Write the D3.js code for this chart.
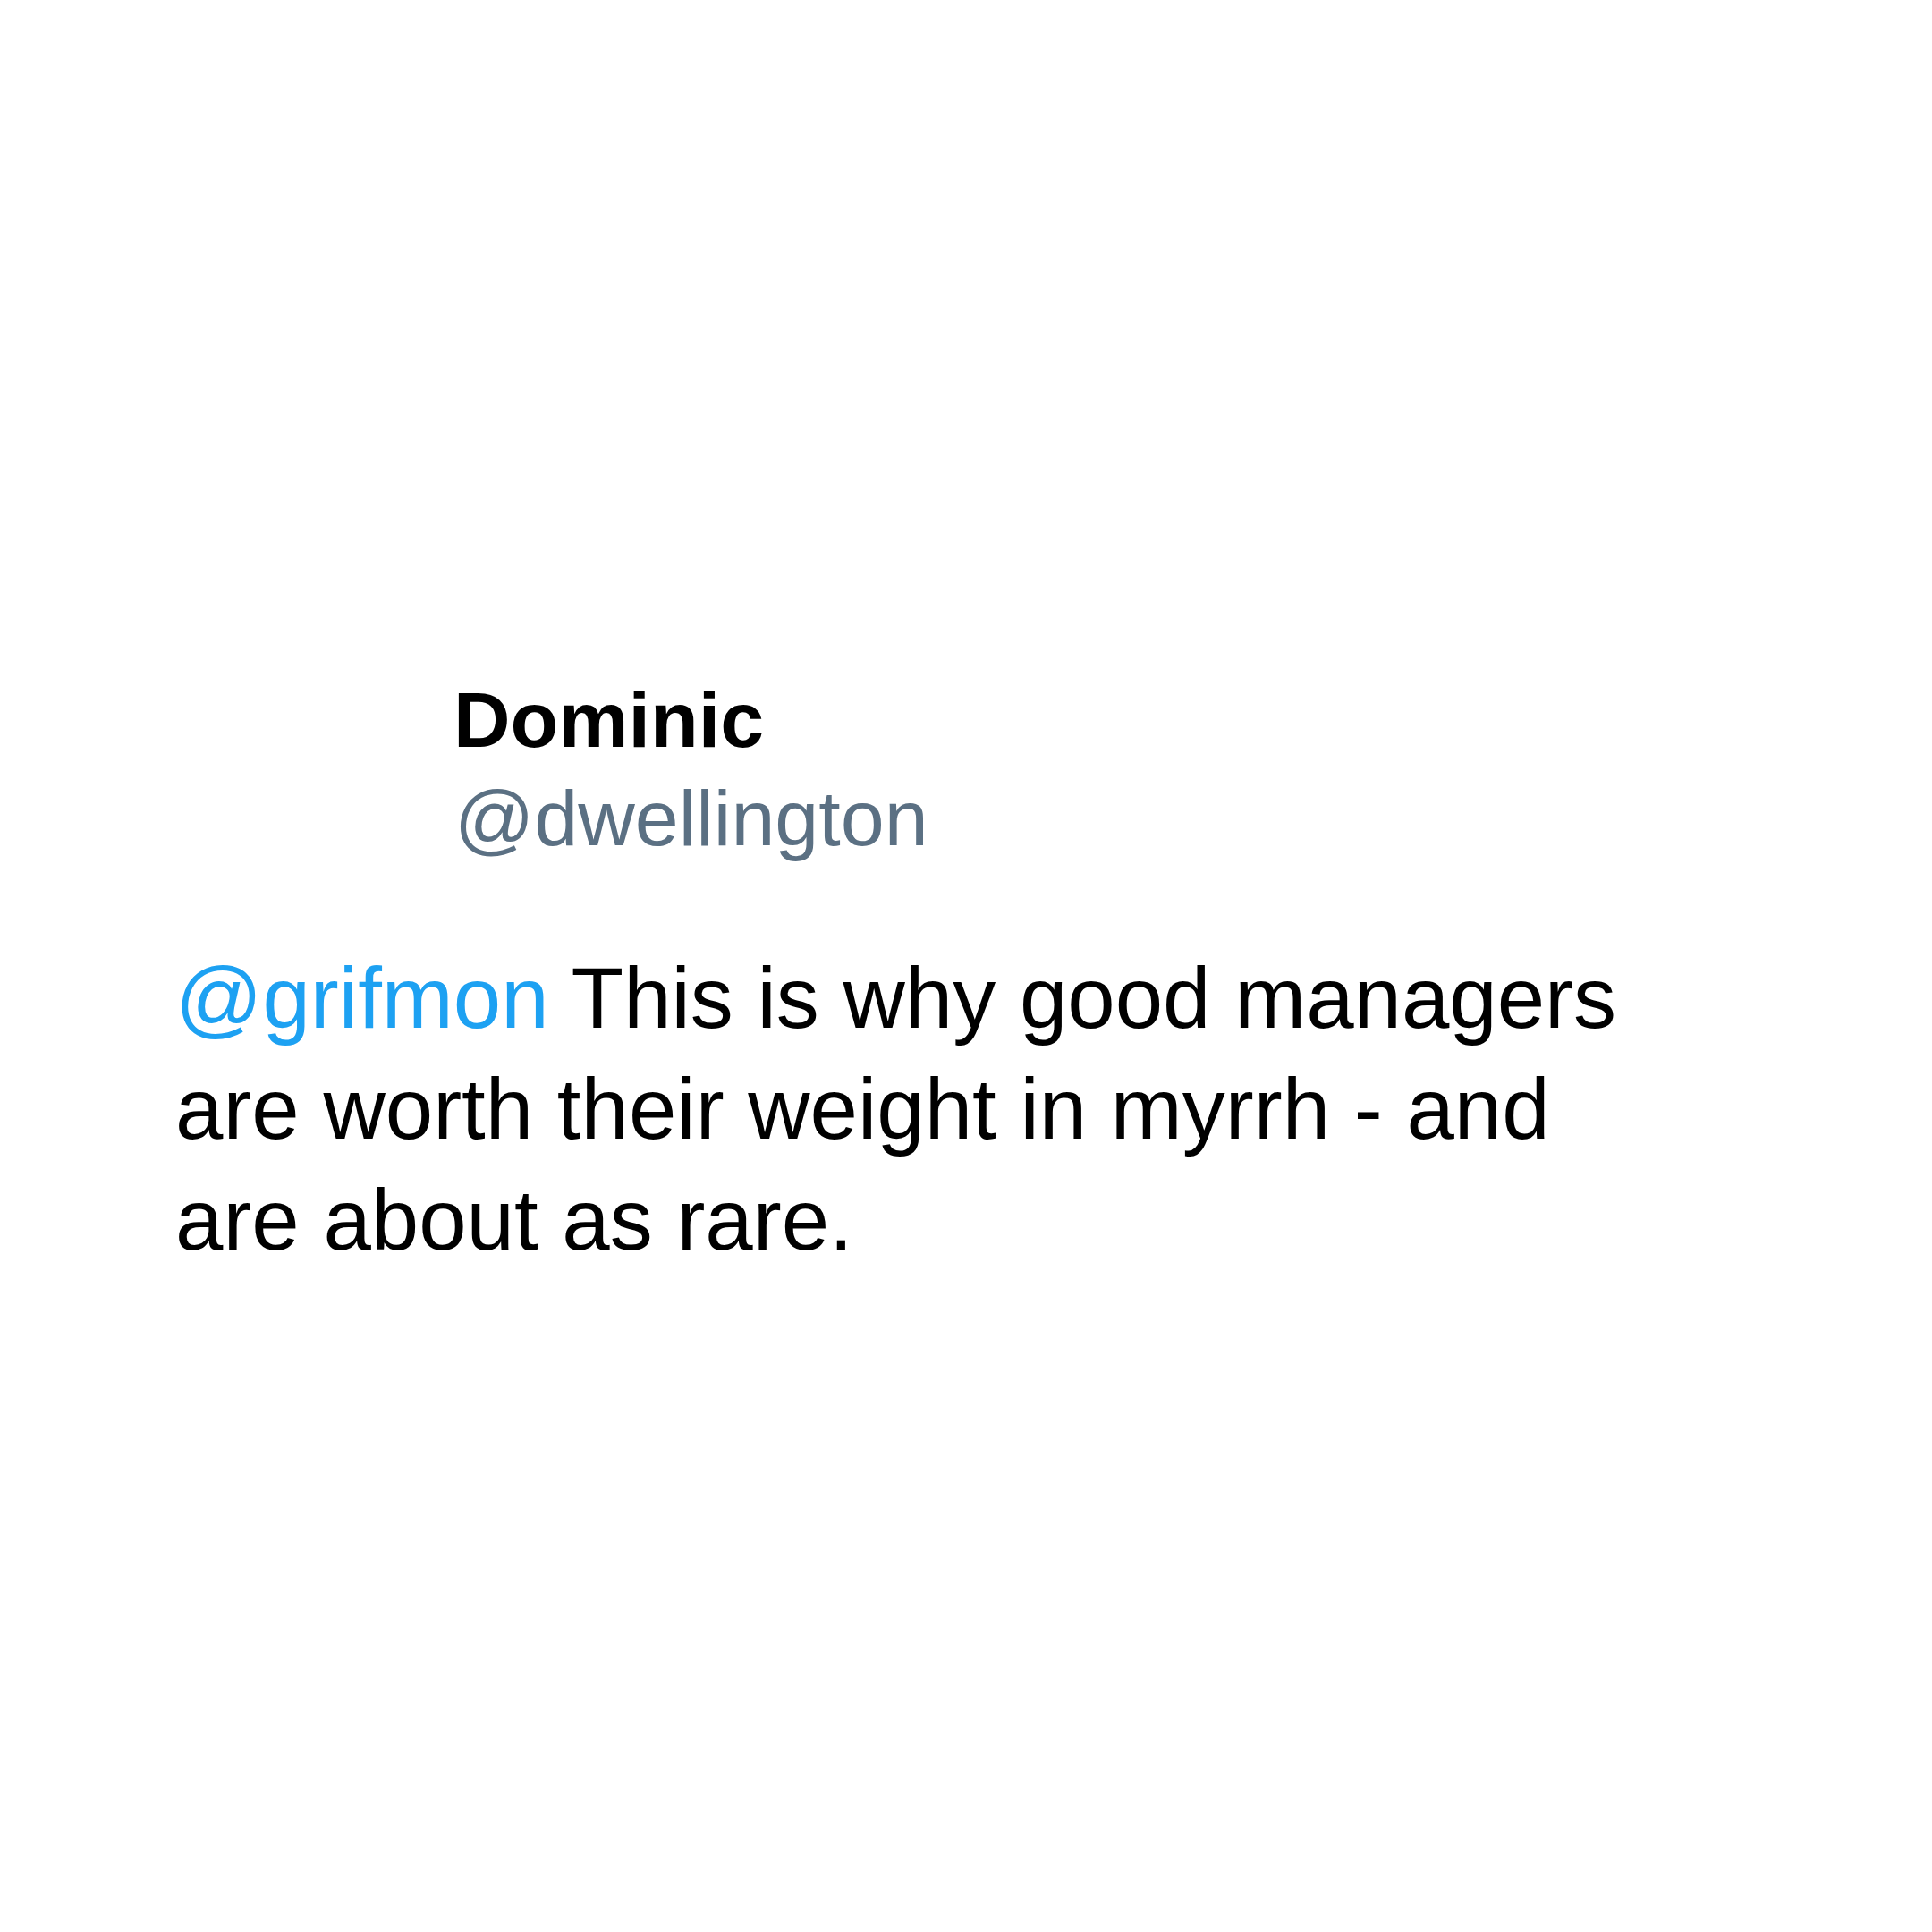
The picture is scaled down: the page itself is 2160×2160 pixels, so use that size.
<!DOCTYPE html>
<html><head><meta charset="utf-8">
<script src="https://cdn.jsdelivr.net/npm/d3@7"></script>
<style>html,body{margin:0;background:#fff}</style>
</head><body>
<script>
const displayName = "Dominic";
const handle = "@dwellington";
const mention = "@grifmon";
const bodyLines = [
  " This is why good managers",
  "are worth their weight in myrrh - and",
  "are about as rare."
];
const W = 2160, H = 2160;
const svg = d3.select("body").append("svg").attr("width", W).attr("height", H)
  .style("font-family", "'Liberation Sans', Arial, sans-serif");
svg.append("rect").attr("width", W).attr("height", H).attr("fill", "#fff");
svg.append("text").attr("x", 507).attr("y", 835).attr("font-size", 88)
  .attr("font-weight", "bold").attr("fill", "#000").text(displayName);
svg.append("text").attr("x", 508).attr("y", 945).attr("font-size", 88)
  .attr("fill", "#5b7083").text(handle);
const y = d3.scaleLinear().domain([0, 1]).range([1149, 1273]);
const t = svg.selectAll("text.body").data(bodyLines).join("text")
  .attr("class", "body").attr("x", 196).attr("y", (d, i) => y(i))
  .attr("font-size", 96).attr("fill", "#000");
t.each(function(d, i) {
  const s = d3.select(this);
  if (i === 0) s.append("tspan").attr("fill", "#1da1f2").text(mention);
  s.append("tspan").text(d);
});
</script>
</body></html>
